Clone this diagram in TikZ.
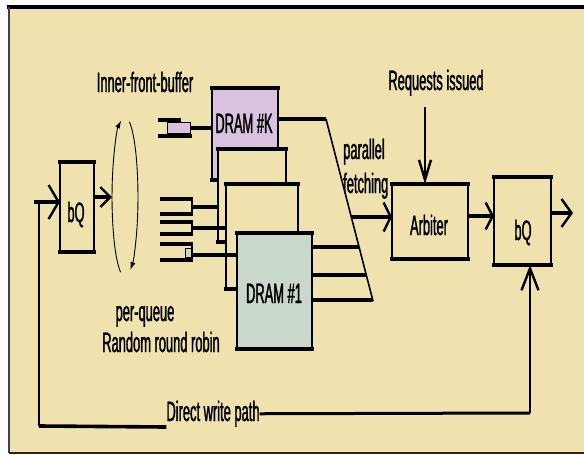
\documentclass[tikz,border=0pt]{standalone}
\usepackage{fontspec}
\setmainfont{Liberation Sans}[FakeStretch=0.46,FakeBold=1.2]
\usetikzlibrary{arrows.meta,calc}
\definecolor{bg}{HTML}{EFE2AF}
\definecolor{purp}{HTML}{D9C2DF}
\definecolor{grn}{HTML}{C9D8CA}
\begin{document}
\begin{tikzpicture}[x=1pt,y=-1pt,
  font=\fontsize{28}{30}\selectfont,
  thk/.style={line width=3.6pt},
  thn/.style={line width=1.6pt},
  box/.style={draw, line width=1.8pt, inner sep=0pt, outer sep=0pt, fill=bg, anchor=north west},
  lbl/.style={inner sep=0pt, anchor=base},
  barb/.style 2 args={-{Straight Barb[length=#1,width=#2,line width=2.4pt]}},
  edge/.style={line width=3.6pt, line cap=rect}]
\useasboundingbox (0,0) rectangle (584,455);
% frame
\fill[white] (0,0) rectangle (584,455);
\fill[bg] (9,7) rectangle (584,453);
\draw[line width=4pt] (7,6.5) -- (584,6.5);
\draw[line width=2pt, black!75] (9,7) -- (9,453);
\draw[line width=1.5pt, black!85] (9,453) -- (584,453);

% bQ left
\node[box, minimum width=34pt, minimum height=90pt] (bq1) at (60,162) {};
\draw[edge] (bq1.north west) -- (bq1.north east);
\draw[edge] (bq1.south west) -- (bq1.south east);
\node[lbl] (bq1t) at (76,222) {bQ};

% input and loop-back path
\coordinate (inS) at (34,202);
\coordinate (bl) at (39,426);
\coordinate (vt) at (39,202);
\draw[thk, barb={10pt}{34pt}] (inS) -- (inS -| bq1.west);
\draw[thn] (vt) -- (bl);

% ellipse
\coordinate (ec) at (125,197);
\coordinate (eL) at (112,197);
\draw[barb={10pt}{20pt}, thk] (bq1.east |- eL) -- (eL);
\draw[line width=0.9pt, -{Latex[length=8pt,width=5pt]}] ($(ec)+(-0.34*13, 0.94*80)$)
   arc[start angle=250, end angle=107, x radius=13pt, y radius=80pt];
\draw[line width=0.9pt, -{Latex[length=8pt,width=5pt]}] ($(ec)+(0.34*13, -0.94*80)$)
   arc[start angle=70, end angle=-66, x radius=13pt, y radius=80pt];
\node[lbl] (ifb) at (145,92) {Inner-front-buffer};

% DRAM stack
\node[box, fill=purp, minimum width=66pt, minimum height=92pt] (dk) at (212,88) {};
\draw[edge] (dk.north west) -- (dk.north east);
\draw[edge] (dk.south west) -- (dk.south east);
\node[lbl] (dkt) at (244,133) {DRAM \#K};

\node[box, minimum width=68pt, minimum height=93pt] (d3) at (218,149) {};
\draw[edge] (d3.north west) -- (d3.north east);
\draw[edge] (d3.south west) -- (d3.south east);

\node[box, minimum width=72pt, minimum height=105pt] (d2) at (226,184) {};
\draw[edge] (d2.north west) -- (d2.north east);
\draw[edge] (d2.south west) -- (d2.south east);

\node[box, fill=grn, minimum width=75pt, minimum height=116pt] (d1) at (237,233) {};
\draw[edge] (d1.north west) -- (d1.north east);
\draw[edge] (d1.south west) -- (d1.south east);
\node[lbl] (d1t) at (274,303) {DRAM \#1};

% input queues
% purple queue
\draw[edge] (160,120) -- (179,120);
\node[draw, line width=1.2pt, fill=purp, anchor=north west, inner sep=0pt, minimum width=23pt, minimum height=11pt] (qk) at (167,122) {};
\draw[edge] (160,136) -- (190,136);
\draw[thk] (qk.east) -- (qk.east -| dk.west);
% three queues
\draw[edge] (162,199) -- (191,199);
\draw[edge] (162,214) -- (191,214);
\draw[thn] (192,199) -- (192,214);
\coordinate (q1) at (192,207);
\draw[thk] (q1) -- (q1 -| d3.west);

\draw[edge] (162,222) -- (191,222);
\draw[edge] (162,234) -- (191,234);
\draw[thn] (192,222) -- (192,234);
\coordinate (q2) at (192,228);
\draw[thk] (q2) -- (q2 -| d2.west);

\draw[edge] (162,244) -- (191,244);
\draw[edge] (162,260) -- (191,260);
\node[draw, line width=1.2pt, fill=grn, anchor=north west, inner sep=0pt, minimum width=7pt, minimum height=9pt] (q3c) at (185,248) {};
\draw[thn] (192,244) -- (192,260);
\coordinate (q3) at (192,255);
\draw[thk] (q3) -- (q3 -| d1.west);

\node[lbl] (pq) at (145,321) {per-queue};
\node[lbl] (rrr) at (161,352) {Random round robin};

% parallel fetching funnel
\coordinate (dtop) at (326,119);
\coordinate (dbot) at (373,301);
\draw[thk] (dk.east |- dtop) -- (dtop);
\draw[thn] (dtop) -- (dbot);
\coordinate (o1) at (312,247);
\coordinate (o2) at (312,275);
\coordinate (o3) at (312,300);
\draw[thk] (o1) -- ($(dtop)!128/182!(dbot)$);
\draw[thk] (o2) -- ($(dtop)!156/182!(dbot)$);
\draw[thk] (o3) -- ($(dtop)!181/182!(dbot)$);
\node[lbl, anchor=base west] (par) at (343,159) {parallel};
\node[lbl, anchor=base west] (fet) at (343,193) {fetching};

% arbiter
\node[box, minimum width=76pt, minimum height=75pt] (arb) at (392,184) {};
\draw[edge] (arb.north west) -- (arb.north east);
\draw[edge] (arb.south west) -- (arb.south east);
\node[lbl] (arbt) at (429,235) {Arbiter};
\coordinate (af) at ($(dtop)!98/182!(dbot)$);
\draw[thk, barb={7pt}{29pt}] (af) -- (af -| arb.west);
\node[lbl] (req) at (436,90) {Requests issued};
\coordinate (rq) at (425,107);
\draw[thn, barb={20pt}{12pt}] (rq) -- (rq |- arb.north);

% bQ right
\node[box, minimum width=57pt, minimum height=88pt] (bq2) at (494,177) {};
\draw[edge] (bq2.north west) -- (bq2.north east);
\draw[edge] (bq2.south west) -- (bq2.south east);
\node[lbl] (bq2t) at (523,240) {bQ};
\coordinate (ab) at (468,216);
\draw[thk, barb={7pt}{27pt}] (ab) -- (ab -| bq2.west);
\coordinate (outE) at (573,213);
\draw[thk, barb={10pt}{28pt}] (bq2.east |- outE) -- (outE);

% direct write path
\node[lbl] (dw) at (213,421) {Direct write path};
\draw[thk] (bl) -- (dw.south west);
\coordinate (br) at (530,413);
\draw[line width=3pt] (dw.east) -- (br);
\draw[line width=1.8pt, barb={22pt}{17pt}] (br) -- (br |- bq2.south);
\end{tikzpicture}
\end{document}
